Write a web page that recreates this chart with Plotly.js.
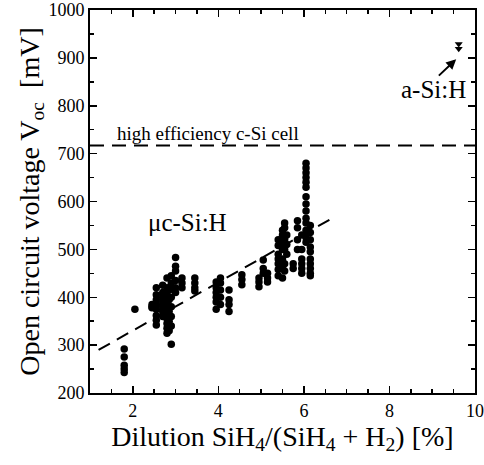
<!DOCTYPE html>
<html>
<head>
<meta charset="utf-8">
<script src="https://cdn.plot.ly/plotly-3.0.1.min.js"></script>
<style>html,body{margin:0;padding:0;background:#fff}#chart{width:484px;height:465px}</style>
</head>
<body>
<div id="chart"></div>
<script>
// μc-Si:H measurements: dilution columns and Voc values at each column
const muDilution = [1.8, 2.05, 2.45, 2.55, 2.7, 2.8, 2.85, 2.9, 3.0, 3.15, 3.45, 3.95, 4.05, 4.25, 4.55, 4.95, 5.05, 5.15, 5.4, 5.5, 5.55, 5.6, 5.75, 5.85, 5.95, 6.05, 6.15];
const muVoc = [
  [292, 275, 258, 250, 243],
  [375],
  [385, 380, 378],
  [420, 405, 395, 385, 375, 362, 352, 342],
  [425, 410, 400, 390, 380, 370, 360],
  [440, 420, 405, 395, 385, 375, 365, 355, 345, 335, 325],
  [415, 395, 370, 350, 330],
  [445, 430, 418, 400, 380, 360, 340, 302],
  [483, 465, 455, 435, 420, 410],
  [440, 430, 420],
  [440, 430, 420, 413],
  [432, 420, 410, 400, 390, 375],
  [440, 430, 415, 400, 385],
  [415, 395, 385, 370],
  [447, 437, 426],
  [440, 432, 422],
  [478, 460, 450],
  [450, 440, 432],
  [520, 508, 490, 480, 470, 458, 445],
  [540, 530, 510, 500, 480, 460, 440],
  [555, 545, 520, 500, 470, 455],
  [530, 510, 490],
  [470, 460],
  [560, 545, 520, 500],
  [530, 500, 480, 470, 460, 450],
  [680, 670, 660, 650, 640, 630, 610, 595, 580, 565, 555, 540, 525, 515],
  [550, 535, 520, 505, 495, 480, 470, 460, 450, 445]
];
// a-Si:H
const aSiDilution = [9.62, 9.62];
const aSiVoc = [929, 919];
// trend line
const fitDilution = [1.2, 6.6];
const fitVoc = [290, 562];
// high efficiency c-Si reference
const cSiDilution = [1, 10];
const cSiVoc = [717, 717];

const xs = [], ys = [];
muDilution.forEach((d, i) => muVoc[i].forEach(v => { xs.push(d); ys.push(v); }));

const serif = 'Liberation Serif, Times New Roman, serif';

const traces = [
  {x: cSiDilution, y: cSiVoc, mode: 'lines', line: {color: '#000', width: 2, dash: '14px,8px'}, hoverinfo: 'skip'},
  {x: fitDilution, y: fitVoc, mode: 'lines', line: {color: '#000', width: 2, dash: '13px,8px'}, hoverinfo: 'skip'},
  {x: xs, y: ys, mode: 'markers', marker: {symbol: 'circle', size: 7.5, color: '#000'}},
  {x: aSiDilution, y: aSiVoc, mode: 'markers', marker: {symbol: 'triangle-down', size: 7, color: '#000'}}
];

const axisCommon = {
  showgrid: false, zeroline: false, showline: true, linecolor: '#000', linewidth: 2,
  mirror: 'ticks', ticks: 'inside', tickcolor: '#000', tickwidth: 1.5, ticklen: 7,
  tickfont: {family: serif, size: 18, color: '#000'}
};

const layout = {
  width: 484, height: 465,
  margin: {l: 90, r: 9, t: 10, b: 72},
  paper_bgcolor: '#fff', plot_bgcolor: '#fff',
  showlegend: false,
  font: {family: serif, color: '#000'},
  xaxis: Object.assign({}, axisCommon, {
    range: [1, 10], tick0: 0, dtick: 2,
    minor: {dtick: 0.5, ticks: 'inside', ticklen: 4, tickcolor: '#000', tickwidth: 1.5},
    title: {text: 'Dilution SiH<sub>4</sub>/(SiH<sub>4</sub> + H<sub>2</sub>) [%]', font: {family: serif, size: 28, color: '#000'}, standoff: 2}
  }),
  yaxis: Object.assign({}, axisCommon, {
    range: [200, 1000], tick0: 0, dtick: 100,
    minor: {dtick: 50, ticks: 'inside', ticklen: 4, tickcolor: '#000', tickwidth: 1.5},
    title: {text: 'Open circuit voltage V<sub>oc</sub>  [mV]', font: {family: serif, size: 28, color: '#000'}, standoff: 1}
  }),
  annotations: [
    {x: 1.58, y: 743, xref: 'x', yref: 'y', text: 'high efficiency c-Si cell', showarrow: false, xanchor: 'left', yanchor: 'middle', font: {family: serif, size: 19, color: '#000'}},
    {x: 2.32, y: 557, xref: 'x', yref: 'y', text: 'μc-Si:H', showarrow: false, xanchor: 'left', yanchor: 'middle', font: {family: serif, size: 25, color: '#000'}},
    {x: 9.83, y: 833, xref: 'x', yref: 'y', text: 'a-Si:H', showarrow: false, xanchor: 'right', yanchor: 'middle', font: {family: serif, size: 25, color: '#000'}},
    {x: 9.56, y: 897, xref: 'x', yref: 'y', axref: 'x', ayref: 'y', ax: 9.12, ay: 860, text: '', showarrow: true, arrowhead: 2, arrowsize: 1, arrowwidth: 2, arrowcolor: '#000'}
  ]
};

Plotly.newPlot('chart', traces, layout, {staticPlot: true, displayModeBar: false});
</script>
</body>
</html>
